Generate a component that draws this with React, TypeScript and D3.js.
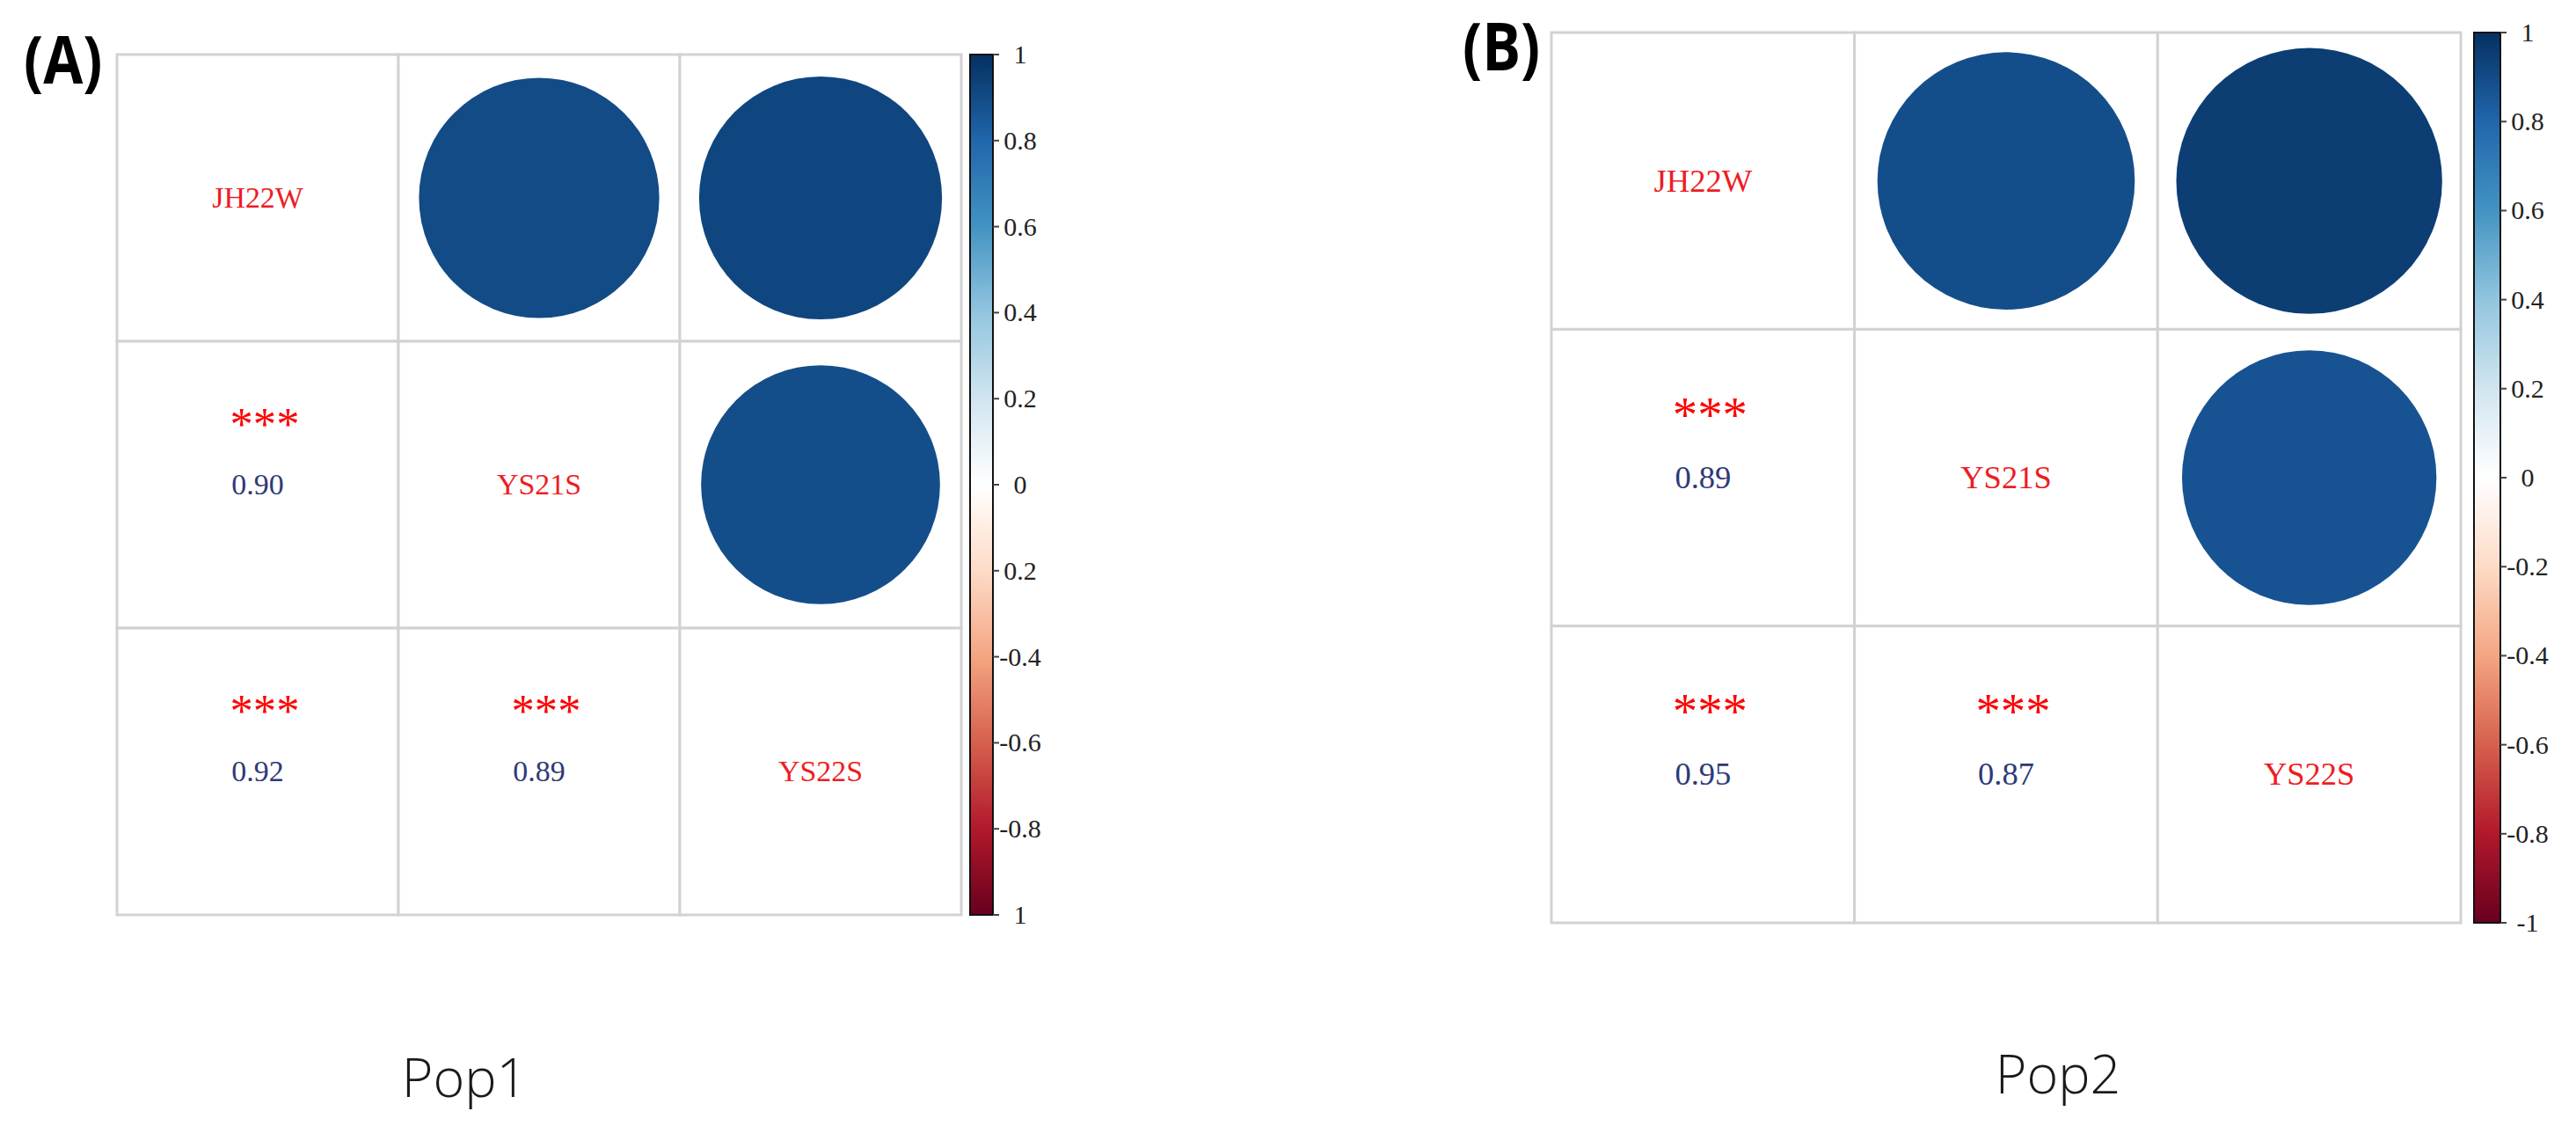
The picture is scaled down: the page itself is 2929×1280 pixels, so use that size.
import React from "react";
import * as d3 from "d3";

// variables shown on the diagonal
const variables = ["JH22W", "YS21S", "YS22S"];

// correlation matrices
const pop1Corr = [
  [1, 0.9, 0.92],
  [0.9, 1, 0.89],
  [0.92, 0.89, 1],
];
const pop2Corr = [
  [1, 0.89, 0.95],
  [0.89, 1, 0.87],
  [0.95, 0.87, 1],
];

// significance marks for the lower triangle
const pop1Sig = [
  ["", "", ""],
  ["***", "", ""],
  ["***", "***", ""],
];
const pop2Sig = [
  ["", "", ""],
  ["***", "", ""],
  ["***", "***", ""],
];

// colour bar ticks (panel A has a couple of missing minus signs in the original)
const barTickValues = [1, 0.8, 0.6, 0.4, 0.2, 0, -0.2, -0.4, -0.6, -0.8, -1];
const barLabelsA = ["1", "0.8", "0.6", "0.4", "0.2", "0", "0.2", "-0.4", "-0.6", "-0.8", "1"];
const barLabelsB = ["1", "0.8", "0.6", "0.4", "0.2", "0", "-0.2", "-0.4", "-0.6", "-0.8", "-1"];

// corrplot's default diverging palette
const palette = [
  "#67001F", "#B2182B", "#D6604D", "#F4A582", "#FDDBC7", "#FFFFFF",
  "#D1E5F0", "#92C5DE", "#4393C3", "#2166AC", "#053061",
];

const color = d3
  .scaleLinear<string>()
  .domain(d3.range(11).map((i) => -1 + i * 0.2))
  .range(palette)
  .interpolate(d3.interpolateRgb);

const SERIF = "'Liberation Serif', 'Times New Roman', serif";

type PanelProps = {
  id: string;
  corr: number[][];
  sig: string[][];
  barLabels: string[];
  left: number;
  top: number;
  right: number;
  bottom: number;
  barX: number;
  barW: number;
  barTop: number;
  barBottom: number;
};

const CorrPanel = ({ id, corr, sig, barLabels, left, top, right, bottom, barX, barW, barTop, barBottom }: PanelProps) => {
  const x = d3.scaleBand().domain(variables).range([left, right]);
  const y = d3.scaleBand().domain(variables).range([top, bottom]);
  const cw = x.bandwidth();
  const ch = y.bandwidth();
  const r = d3.scaleSqrt().domain([0, 1]).range([0, 0.45 * cw]);
  const fs = cw * 0.106;
  const bar = d3.scaleLinear().domain([-1, 1]).range([barBottom, barTop]);
  const gradId = `grad-${id}`;

  return (
    <g>
      <defs>
        <linearGradient id={gradId} x1="0" y1="1" x2="0" y2="0">
          {palette.map((c, i) => (
            <stop key={i} offset={`${i * 10}%`} stopColor={c} />
          ))}
        </linearGradient>
      </defs>

      {/* grid */}
      {variables.map((v) =>
        variables.map((w) => (
          <rect
            key={v + w}
            x={x(w)}
            y={y(v)}
            width={cw}
            height={ch}
            fill="#fff"
            stroke="#d2d2d2"
            strokeWidth={3}
          />
        ))
      )}

      {variables.map((rowName, i) =>
        variables.map((colName, j) => {
          const cx = (x(colName) as number) + cw / 2;
          const cy = (y(rowName) as number) + ch / 2;
          const v = corr[i][j];
          if (i === j) {
            return (
              <text key={`d${i}`} x={cx} y={cy + fs * 0.33} textAnchor="middle" fontFamily={SERIF} fontSize={fs} fill="#ee1c24">
                {rowName}
              </text>
            );
          }
          if (j > i) {
            return <circle key={`c${i}${j}`} cx={cx} cy={cy} r={r(Math.abs(v))} fill={color(v)} />;
          }
          return (
            <g key={`t${i}${j}`}>
              <text x={cx + 8} y={cy - ch * 0.155} textAnchor="middle" fontFamily={SERIF} fontSize={fs * 1.55} fill="#ff0000">
                {sig[i][j]}
              </text>
              <text x={cx} y={cy + fs * 0.33} textAnchor="middle" fontFamily={SERIF} fontSize={fs} fill="#2e3a78">
                {d3.format(".2f")(v)}
              </text>
            </g>
          );
        })
      )}

      {/* colour bar */}
      <rect x={barX} y={barTop} width={barW} height={barBottom - barTop} fill={`url(#${gradId})`} stroke="#111" strokeWidth={2} />
      {barTickValues.map((t, i) => (
        <g key={i}>
          <line x1={barX + barW} x2={barX + barW + 7} y1={bar(t)} y2={bar(t)} stroke="#444" strokeWidth={2} />
          <text
            x={barX + barW + 31}
            y={bar(t) + 10}
            textAnchor="middle"
            fontFamily={SERIF}
            fontSize={30}
            fill="#222"
          >
            {barLabels[i]}
          </text>
        </g>
      ))}
    </g>
  );
};

export default function App() {
  return (
    <div style={{ position: "absolute", left: 0, top: 0 }}>
      <svg width={2929} height={1280} style={{ display: "block", background: "#fff" }}>
        <text
          transform="translate(27,95) scale(0.86,1)"
          fontFamily="'Open Sans', sans-serif"
          fontWeight={700}
          fontSize={76}
          fill="#000"
        >
          (A)
        </text>
        <text
          transform="translate(1663,80) scale(0.86,1)"
          fontFamily="'Open Sans', sans-serif"
          fontWeight={700}
          fontSize={76}
          fill="#000"
        >
          (B)
        </text>

        <CorrPanel
          id="a"
          corr={pop1Corr}
          sig={pop1Sig}
          barLabels={barLabelsA}
          left={133}
          top={62}
          right={1093}
          bottom={1040}
          barX={1103}
          barW={26}
          barTop={62}
          barBottom={1040}
        />
        <CorrPanel
          id="b"
          corr={pop2Corr}
          sig={pop2Sig}
          barLabels={barLabelsB}
          left={1764}
          top={37}
          right={2798}
          bottom={1049}
          barX={2813}
          barW={30}
          barTop={37}
          barBottom={1049}
        />

        <text x={528} y={1247} textAnchor="middle" fontFamily="'Open Sans', sans-serif" fontWeight={300} fontSize={61} fill="#1a1a1a">
          Pop1
        </text>
        <text x={2340} y={1243} textAnchor="middle" fontFamily="'Open Sans', sans-serif" fontWeight={300} fontSize={61} fill="#1a1a1a">
          Pop2
        </text>
      </svg>
    </div>
  );
}
